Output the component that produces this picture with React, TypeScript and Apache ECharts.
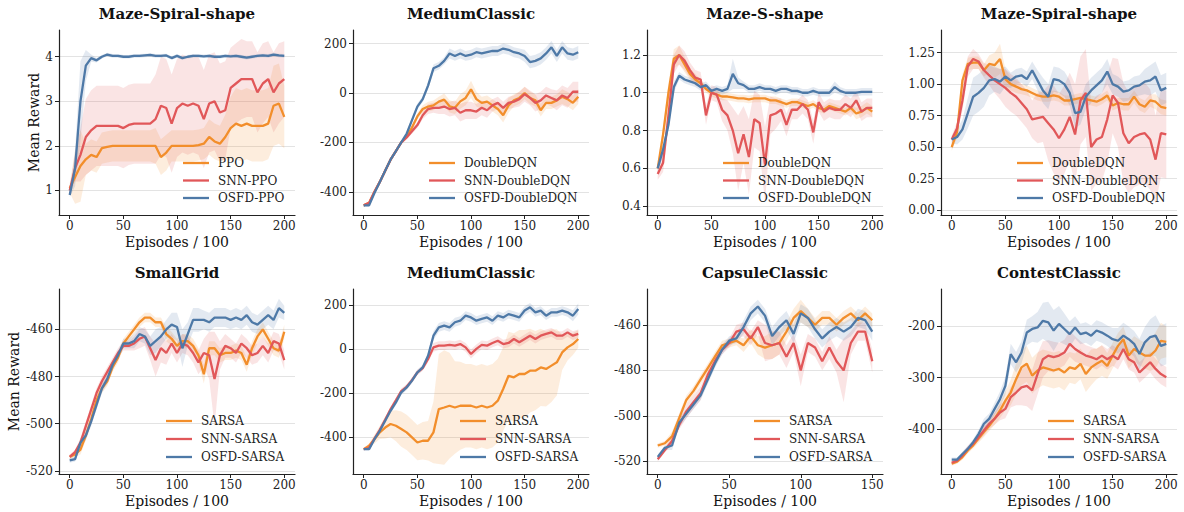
import React, { useEffect, useRef } from "react";
import * as echarts from "echarts";

// ---------- episode grids (x values, in units of 100 episodes) ----------
const EPISODES_200 = [0, 5, 10, 15, 20, 25, 30, 35, 40, 45, 50, 55, 60, 65, 70, 75, 80, 85, 90, 95, 100, 105, 110, 115, 120, 125, 130, 135, 140, 145, 150, 155, 160, 165, 170, 175, 180, 185, 190, 195, 200];
const EPISODES_150 = [0, 5, 10, 15, 20, 25, 30, 35, 40, 45, 50, 55, 60, 65, 70, 75, 80, 85, 90, 95, 100, 105, 110, 115, 120, 125, 130, 135, 140, 145, 150];
const X_TICKS_200 = [0, 50, 100, 150, 200];
const X_TICKS_150 = [0, 50, 100, 150];

// ---------- Panel 1: Maze-Spiral-shape (PPO) ----------
const spiralPPO = [1.05, 1.3, 1.55, 1.7, 1.8, 1.75, 1.95, 1.98, 2.0, 2.0, 2.0, 2.0, 2.0, 2.0, 2.0, 2.0, 2.0, 1.75, 1.85, 2.0, 2.0, 2.0, 2.0, 2.0, 2.02, 2.05, 2.2, 2.1, 2.05, 2.2, 2.4, 2.5, 2.45, 2.5, 2.45, 2.45, 2.45, 2.5, 2.9, 2.95, 2.65];
const spiralPPOSd = [0.1, 0.6, 0.8, 0.35, 0.35, 0.35, 0.35, 0.35, 0.35, 0.35, 0.35, 0.35, 0.35, 0.35, 0.35, 0.35, 0.4, 0.4, 0.4, 0.35, 0.35, 0.35, 0.35, 0.35, 0.35, 0.35, 0.4, 0.4, 0.4, 0.5, 0.7, 0.8, 0.8, 0.8, 0.8, 0.8, 0.8, 0.8, 0.9, 0.9, 0.7];
const spiralSNNPPO = [1.0, 1.5, 1.8, 2.2, 2.35, 2.45, 2.45, 2.45, 2.45, 2.45, 2.4, 2.47, 2.5, 2.5, 2.5, 2.5, 2.6, 2.9, 2.85, 2.5, 2.85, 2.95, 2.9, 2.95, 2.9, 2.6, 2.95, 3.0, 2.75, 2.8, 3.3, 3.4, 3.5, 3.5, 3.5, 3.2, 3.4, 3.5, 3.2, 3.4, 3.5];
const spiralSNNPPOSd = [0.1, 0.3, 0.6, 0.85, 0.9, 0.9, 0.9, 0.9, 0.9, 0.9, 0.9, 0.9, 0.9, 0.9, 0.9, 0.9, 1.0, 1.1, 1.1, 1.1, 1.1, 1.1, 1.1, 1.1, 1.1, 1.1, 1.1, 1.1, 1.1, 1.1, 0.9, 0.9, 0.9, 0.85, 0.85, 0.9, 0.9, 0.85, 0.9, 0.9, 0.85];
const spiralOSFDPPO = [0.9, 1.5, 3.0, 3.8, 3.97, 3.92, 4.0, 4.05, 4.02, 4.02, 4.0, 4.0, 4.02, 4.02, 4.03, 4.04, 4.02, 4.02, 4.03, 3.97, 4.02, 3.97, 4.0, 4.02, 4.02, 4.01, 4.02, 4.0, 4.0, 4.02, 4.01, 4.02, 4.0, 3.98, 4.0, 4.02, 4.03, 4.02, 4.05, 4.03, 4.02];
const spiralOSFDPPOSd = [0.05, 0.4, 0.9, 0.35, 0.08, 0.05, 0.04, 0.04, 0.04, 0.04, 0.04, 0.04, 0.04, 0.04, 0.04, 0.04, 0.04, 0.04, 0.04, 0.04, 0.04, 0.04, 0.04, 0.04, 0.04, 0.04, 0.04, 0.04, 0.04, 0.04, 0.04, 0.04, 0.04, 0.04, 0.04, 0.04, 0.04, 0.04, 0.04, 0.04, 0.04];

// ---------- Panel 2: MediumClassic (DoubleDQN) ----------
const mcDQN = [-455, -445, -400, -360, -315, -270, -235, -200, -175, -140, -95, -65, -55, -50, -35, -27, -54, -60, -34, -20, 15, -25, -40, -35, -50, -65, -90, -50, -30, -20, 0, -20, -30, -70, -40, -40, -30, -15, -25, -40, -15];
const mcDQNSd = [5, 5, 8, 8, 8, 8, 8, 8, 8, 10, 12, 15, 20, 20, 20, 25, 25, 25, 30, 30, 35, 30, 25, 25, 25, 25, 30, 30, 25, 25, 25, 25, 25, 25, 25, 25, 25, 30, 30, 30, 30];
const mcSNNDQN = [-455, -445, -400, -360, -315, -270, -235, -200, -180, -155, -130, -90, -65, -60, -60, -55, -65, -60, -80, -70, -70, -75, -60, -70, -50, -40, -60, -40, -35, -25, -5, -20, -40, -30, -10, -20, -30, -10, -20, 5, 5];
const mcSNNDQNSd = [5, 5, 8, 8, 8, 8, 8, 8, 8, 10, 12, 15, 20, 20, 25, 30, 30, 30, 35, 35, 35, 30, 30, 30, 25, 25, 25, 25, 25, 30, 30, 30, 35, 35, 35, 35, 40, 40, 40, 40, 40];
const mcOSFDDQN = [-455, -455, -405, -360, -315, -270, -235, -200, -165, -110, -55, -25, 30, 100, 110, 130, 160, 150, 160, 150, 155, 165, 160, 165, 170, 170, 180, 175, 165, 160, 150, 125, 130, 140, 160, 185, 150, 185, 160, 155, 165];
const mcOSFDDQNSd = [5, 5, 8, 8, 8, 8, 8, 8, 8, 10, 12, 12, 15, 15, 15, 15, 20, 20, 20, 20, 20, 20, 20, 20, 20, 20, 20, 20, 20, 20, 25, 25, 25, 25, 25, 25, 25, 25, 25, 25, 25];

// ---------- Panel 3: Maze-S-shape (DoubleDQN) ----------
const sDQN = [0.6, 0.78, 1.0, 1.18, 1.2, 1.15, 1.1, 1.07, 1.05, 1.02, 1.0, 0.99, 0.98, 0.98, 0.975, 0.97, 0.97, 0.965, 0.97, 0.97, 0.97, 0.96, 0.96, 0.95, 0.94, 0.95, 0.95, 0.94, 0.93, 0.94, 0.92, 0.91, 0.93, 0.92, 0.91, 0.9, 0.92, 0.89, 0.9, 0.92, 0.9];
const sDQNSd = [0.02, 0.04, 0.05, 0.05, 0.05, 0.04, 0.03, 0.03, 0.02, 0.02, 0.02, 0.02, 0.02, 0.02, 0.02, 0.02, 0.02, 0.02, 0.02, 0.02, 0.02, 0.02, 0.02, 0.02, 0.02, 0.02, 0.02, 0.02, 0.02, 0.02, 0.02, 0.02, 0.02, 0.02, 0.02, 0.02, 0.02, 0.03, 0.03, 0.03, 0.03];
const sSNNDQN = [0.57, 0.63, 0.88, 1.15, 1.2, 1.17, 1.12, 1.08, 1.07, 0.88, 1.0, 0.99, 0.91, 0.88, 0.8, 0.68, 0.78, 0.66, 0.86, 0.84, 0.62, 0.88, 0.89, 0.91, 0.83, 0.91, 0.91, 0.94, 0.91, 0.79, 0.95, 0.9, 0.92, 0.91, 0.91, 0.94, 0.92, 0.96, 0.9, 0.92, 0.92];
const sSNNDQNSd = [0.03, 0.05, 0.06, 0.05, 0.05, 0.05, 0.04, 0.04, 0.04, 0.05, 0.04, 0.04, 0.06, 0.08, 0.12, 0.2, 0.15, 0.2, 0.15, 0.15, 0.2, 0.1, 0.08, 0.06, 0.06, 0.05, 0.05, 0.05, 0.05, 0.06, 0.05, 0.05, 0.05, 0.05, 0.05, 0.05, 0.05, 0.05, 0.05, 0.05, 0.05];
const sOSFDDQN = [0.6, 0.7, 0.83, 1.03, 1.09, 1.07, 1.06, 1.05, 1.03, 1.04, 1.01, 1.02, 1.01, 1.02, 1.1, 1.05, 1.04, 1.02, 1.02, 1.03, 1.02, 1.02, 1.01, 1.02, 1.02, 1.01, 1.01, 1.0, 1.0, 1.01, 1.0, 1.0, 1.0, 1.03, 1.01, 1.0, 1.0, 1.0, 1.005, 1.005, 1.005];
const sOSFDDQNSd = [0.02, 0.03, 0.03, 0.03, 0.02, 0.02, 0.02, 0.02, 0.02, 0.02, 0.02, 0.02, 0.02, 0.02, 0.08, 0.03, 0.02, 0.02, 0.02, 0.02, 0.02, 0.02, 0.02, 0.02, 0.02, 0.02, 0.02, 0.02, 0.02, 0.02, 0.02, 0.02, 0.02, 0.03, 0.02, 0.02, 0.02, 0.02, 0.02, 0.02, 0.02];

// ---------- Panel 4: Maze-Spiral-shape (DoubleDQN) ----------
const spDQN = [0.5, 0.62, 1.03, 1.16, 1.17, 1.17, 1.11, 1.16, 1.15, 1.2, 1.04, 1.0, 0.98, 0.96, 0.95, 0.93, 0.91, 0.9, 0.9, 0.91, 0.9, 0.87, 0.87, 0.88, 0.89, 0.88, 0.87, 0.86, 0.88, 0.91, 0.83, 0.85, 0.84, 0.84, 0.9, 0.84, 0.82, 0.87, 0.86, 0.82, 0.81];
const spDQNSd = [0.03, 0.05, 0.05, 0.05, 0.05, 0.05, 0.05, 0.07, 0.1, 0.12, 0.08, 0.05, 0.05, 0.04, 0.04, 0.04, 0.04, 0.04, 0.04, 0.04, 0.04, 0.04, 0.04, 0.04, 0.04, 0.04, 0.04, 0.04, 0.04, 0.04, 0.04, 0.04, 0.05, 0.05, 0.05, 0.05, 0.05, 0.05, 0.06, 0.06, 0.06];
const spSNNDQN = [0.56, 0.65, 0.87, 1.14, 1.2, 1.18, 1.11, 1.07, 1.03, 1.0, 0.97, 0.93, 0.9, 0.85, 0.8, 0.72, 0.73, 0.74, 0.69, 0.64, 0.57, 0.64, 0.74, 0.6, 0.87, 0.93, 0.5, 0.56, 0.58, 0.72, 0.91, 0.85, 0.61, 0.53, 0.58, 0.6, 0.61, 0.56, 0.4, 0.61, 0.6];
const spSNNDQNSd = [0.03, 0.05, 0.08, 0.08, 0.08, 0.06, 0.06, 0.08, 0.1, 0.12, 0.15, 0.15, 0.15, 0.15, 0.15, 0.15, 0.2, 0.2, 0.3, 0.35, 0.35, 0.35, 0.35, 0.4, 0.35, 0.35, 0.35, 0.35, 0.35, 0.35, 0.3, 0.35, 0.4, 0.4, 0.4, 0.4, 0.4, 0.4, 0.35, 0.35, 0.35];
const spOSFDDQN = [0.56, 0.58, 0.64, 0.77, 0.9, 0.93, 0.97, 1.03, 1.04, 1.02, 1.06, 1.03, 1.06, 1.07, 1.04, 1.11, 1.03, 0.95, 0.9, 1.04, 1.03, 1.0, 0.93, 0.77, 0.78, 0.9, 0.95, 0.99, 1.03, 1.1, 1.0, 0.98, 0.94, 0.95, 0.98, 0.99, 1.02, 1.03, 1.06, 0.95, 0.97];
const spOSFDDQNSd = [0.03, 0.06, 0.08, 0.12, 0.15, 0.15, 0.15, 0.12, 0.1, 0.1, 0.08, 0.06, 0.06, 0.06, 0.06, 0.07, 0.08, 0.1, 0.1, 0.1, 0.1, 0.1, 0.1, 0.12, 0.1, 0.1, 0.1, 0.1, 0.1, 0.1, 0.08, 0.08, 0.08, 0.08, 0.08, 0.08, 0.1, 0.12, 0.12, 0.12, 0.12];

// ---------- Panel 5: SmallGrid (SARSA) ----------
const sgSARSA = [-514, -513, -511, -505, -498, -490, -485, -482, -476, -472, -466, -463, -460, -457, -455, -455, -457, -457, -462, -464, -467, -465, -465, -467, -471, -479, -468, -468, -471, -470, -470, -469, -470, -475, -468, -463, -460, -464, -468, -469, -461];
const sgSARSASd = [1, 1, 2, 2, 2, 2, 2, 2, 2, 2, 2, 2, 2, 2, 2, 2, 2, 2, 3, 3, 3, 3, 3, 3, 3, 4, 3, 3, 3, 3, 3, 3, 3, 3, 3, 3, 3, 3, 3, 3, 3];
const sgSNNSARSA = [-514, -512, -508, -501, -494, -487, -482, -478, -474, -470, -467, -467, -466, -464, -463, -468, -473, -468, -470, -466, -470, -466, -467, -470, -474, -470, -471, -481, -471, -467, -468, -470, -466, -468, -471, -470, -467, -470, -465, -466, -473];
const sgSNNSARSASd = [1, 1, 2, 2, 2, 2, 2, 2, 2, 2, 2, 2, 3, 4, 4, 5, 7, 6, 5, 4, 4, 4, 4, 4, 5, 6, 10, 20, 6, 5, 4, 4, 4, 4, 4, 4, 4, 4, 4, 4, 4];
const sgOSFDSARSA = [-515.5, -515, -508, -505, -499, -492, -485, -481, -475, -471, -466, -466, -465, -462, -463, -467, -465, -463, -460, -458, -459, -468, -462, -456, -456, -456, -457, -455, -455, -455, -456, -455, -456, -454, -457, -458, -456, -454, -456, -451, -453];
const sgOSFDSARSASd = [1, 1, 2, 2, 2, 2, 2, 2, 2, 2, 2, 2, 3, 3, 3, 4, 5, 4, 4, 5, 6, 8, 5, 5, 5, 4, 4, 4, 4, 4, 4, 4, 4, 4, 4, 4, 4, 4, 4, 4, 3];

// ---------- Panel 6: MediumClassic (SARSA) ----------
const msSARSA = [-453, -438, -408, -377, -355, -339, -347, -362, -377, -400, -423, -415, -415, -377, -271, -264, -256, -264, -256, -256, -256, -264, -256, -264, -256, -233, -180, -120, -127, -112, -112, -97, -97, -82, -89, -74, -59, -14, 9, 24, 47];
const msSARSASd = [5, 10, 20, 30, 50, 60, 70, 80, 80, 80, 80, 85, 90, 140, 250, 260, 240, 210, 200, 190, 190, 190, 190, 190, 190, 190, 190, 200, 200, 200, 200, 190, 180, 175, 170, 165, 150, 80, 60, 50, 40];
const msSNNSARSA = [-453, -448, -405, -365, -320, -272, -232, -190, -170, -140, -105, -85, -44, 9, 17, 17, 20, 17, 24, 9, -21, 2, 20, 17, 29, 39, 24, 29, 47, 32, 47, 62, 47, 62, 70, 77, 62, 62, 77, 62, 70];
const msSNNSARSASd = [5, 5, 8, 10, 12, 12, 12, 12, 12, 12, 12, 12, 15, 20, 20, 20, 20, 20, 20, 20, 20, 20, 20, 20, 20, 20, 20, 20, 20, 20, 20, 20, 20, 20, 20, 20, 20, 20, 20, 20, 20];
const msOSFDSARSA = [-453, -453, -408, -370, -324, -279, -241, -195, -173, -142, -105, -82, -29, 62, 100, 108, 100, 123, 130, 153, 145, 130, 138, 145, 130, 153, 145, 160, 153, 145, 176, 191, 168, 176, 153, 168, 168, 176, 168, 153, 183];
const msOSFDSARSASd = [5, 5, 8, 10, 12, 12, 12, 12, 12, 12, 12, 12, 15, 20, 20, 20, 20, 20, 20, 20, 20, 20, 20, 20, 20, 20, 20, 20, 20, 20, 20, 20, 20, 20, 20, 20, 20, 20, 20, 25, 25];

// ---------- Panel 7: CapsuleClassic (SARSA, 150 x100 episodes) ----------
const ccSARSA = [-513, -512, -509, -501, -493, -489, -484, -479, -474, -469, -468, -467, -469, -465, -469, -470, -469, -468, -463, -457, -454, -457, -460, -457, -457, -460, -457, -455, -458, -455, -458];
const ccSARSASd = [1, 1, 2, 2, 2, 2, 2, 2, 2, 2, 2, 2, 3, 3, 4, 5, 6, 5, 4, 4, 5, 4, 3, 3, 3, 3, 3, 3, 3, 3, 3];
const ccSNNSARSA = [-519, -515, -511, -504, -498, -494, -490, -482, -476, -471, -468, -463, -462, -466, -461, -468, -469, -468, -474, -468, -480, -468, -470, -476, -470, -476, -480, -468, -463, -463, -476];
const ccSNNSARSASd = [1, 1, 2, 2, 3, 3, 3, 2, 2, 2, 2, 3, 3, 3, 3, 8, 6, 5, 5, 4, 7, 4, 4, 4, 5, 5, 14, 5, 4, 4, 5];
const ccOSFDSARSA = [-518, -514, -513, -503, -499, -495, -491, -484, -477, -471, -467, -466, -461, -455, -452, -456, -465, -461, -458, -464, -455, -457, -462, -466, -463, -461, -463, -461, -457, -458, -463];
const ccOSFDSARSASd = [1, 1, 2, 2, 2, 2, 2, 2, 2, 2, 2, 2, 3, 3, 3, 3, 4, 4, 4, 4, 4, 4, 4, 4, 4, 4, 4, 4, 4, 4, 4];

// ---------- Panel 8: ContestClassic (SARSA) ----------
const ctSARSA = [-468, -464, -455, -442, -432, -419, -406, -394, -380, -364, -345, -329, -303, -280, -273, -296, -286, -280, -283, -286, -283, -290, -280, -283, -273, -293, -280, -273, -267, -277, -257, -238, -225, -257, -244, -251, -257, -257, -247, -228, -230];
const ctSARSASd = [4, 4, 5, 6, 6, 8, 10, 10, 12, 15, 18, 25, 30, 35, 35, 35, 35, 35, 35, 35, 35, 35, 30, 30, 30, 35, 35, 30, 30, 25, 25, 25, 25, 25, 25, 25, 25, 30, 35, 35, 30];
const ctSNNSARSA = [-466, -462, -452, -439, -429, -416, -403, -390, -380, -368, -361, -338, -329, -319, -316, -325, -293, -264, -257, -260, -257, -251, -234, -244, -251, -257, -260, -264, -257, -264, -257, -264, -244, -264, -270, -290, -280, -270, -283, -293, -299];
const ctSNNSARSASd = [4, 4, 5, 6, 6, 8, 10, 10, 12, 15, 18, 20, 25, 35, 40, 40, 40, 35, 30, 30, 25, 25, 25, 25, 22, 20, 20, 20, 20, 20, 20, 20, 20, 20, 20, 20, 20, 20, 20, 20, 20];
const ctOSFDSARSA = [-460, -460, -449, -439, -426, -410, -390, -380, -361, -342, -316, -254, -270, -251, -212, -205, -202, -189, -192, -208, -195, -205, -215, -202, -215, -212, -218, -208, -212, -218, -225, -228, -218, -225, -234, -254, -231, -221, -218, -238, -234];
const ctOSFDSARSASd = [4, 4, 5, 6, 6, 8, 10, 10, 12, 15, 18, 20, 20, 22, 25, 25, 30, 35, 40, 40, 35, 30, 25, 22, 20, 20, 20, 20, 20, 20, 22, 25, 25, 25, 25, 30, 30, 35, 40, 40, 40];

// ---------- titles, legends, ticks ----------
const TITLES = ["Maze-Spiral-shape", "MediumClassic", "Maze-S-shape", "Maze-Spiral-shape", "SmallGrid", "MediumClassic", "CapsuleClassic", "ContestClassic"];
const PPO_NAMES = ["PPO", "SNN-PPO", "OSFD-PPO"];
const DQN_NAMES = ["DoubleDQN", "SNN-DoubleDQN", "OSFD-DoubleDQN"];
const SARSA_NAMES = ["SARSA", "SNN-SARSA", "OSFD-SARSA"];
const Y_TICKS = [
  [1, 2, 3, 4],
  [-400, -200, 0, 200],
  [0.4, 0.6, 0.8, 1.0, 1.2],
  [0, 0.25, 0.5, 0.75, 1.0, 1.25],
  [-520, -500, -480, -460],
  [-400, -200, 0, 200],
  [-520, -500, -480, -460],
  [-400, -300, -200],
];
const Y_RANGES = [
  [0.45, 4.6],
  [-494, 255],
  [0.353, 1.332],
  [-0.04, 1.43],
  [-521.3, -442.9],
  [-566, 274],
  [-525.5, -444.3],
  [-488, -127],
];
const Y_DECIMALS = [0, 0, 1, 2, 0, 0, 0, 0];

const PANELS = [
  { names: PPO_NAMES, xs: EPISODES_200, xTicks: X_TICKS_200, means: [spiralPPO, spiralSNNPPO, spiralOSFDPPO], sds: [spiralPPOSd, spiralSNNPPOSd, spiralOSFDPPOSd] },
  { names: DQN_NAMES, xs: EPISODES_200, xTicks: X_TICKS_200, means: [mcDQN, mcSNNDQN, mcOSFDDQN], sds: [mcDQNSd, mcSNNDQNSd, mcOSFDDQNSd] },
  { names: DQN_NAMES, xs: EPISODES_200, xTicks: X_TICKS_200, means: [sDQN, sSNNDQN, sOSFDDQN], sds: [sDQNSd, sSNNDQNSd, sOSFDDQNSd] },
  { names: DQN_NAMES, xs: EPISODES_200, xTicks: X_TICKS_200, means: [spDQN, spSNNDQN, spOSFDDQN], sds: [spDQNSd, spSNNDQNSd, spOSFDDQNSd] },
  { names: SARSA_NAMES, xs: EPISODES_200, xTicks: X_TICKS_200, means: [sgSARSA, sgSNNSARSA, sgOSFDSARSA], sds: [sgSARSASd, sgSNNSARSASd, sgOSFDSARSASd] },
  { names: SARSA_NAMES, xs: EPISODES_200, xTicks: X_TICKS_200, means: [msSARSA, msSNNSARSA, msOSFDSARSA], sds: [msSARSASd, msSNNSARSASd, msOSFDSARSASd] },
  { names: SARSA_NAMES, xs: EPISODES_150, xTicks: X_TICKS_150, means: [ccSARSA, ccSNNSARSA, ccOSFDSARSA], sds: [ccSARSASd, ccSNNSARSASd, ccOSFDSARSASd] },
  { names: SARSA_NAMES, xs: EPISODES_200, xTicks: X_TICKS_200, means: [ctSARSA, ctSNNSARSA, ctOSFDSARSA], sds: [ctSARSASd, ctSNNSARSASd, ctOSFDSARSASd] },
];

// ---------- styling / layout ----------
const COLORS = ["#F28E2B", "#E15759", "#4E79A7"];
const BAND_COLORS = ["rgba(242,142,43,0.16)", "rgba(225,87,89,0.16)", "rgba(78,121,167,0.16)"];
const FONT = "DejaVu Serif";
const GRID_LEFTS = [59, 353, 647, 941];
const GRID_TOPS = [30, 289];
const GRID_W = 236;
const GRID_H = 185;
const TITLE_TOPS = [6, 265];
const LEGEND_OFFSETS = [124, 76, 76, 76, 107, 107, 107, 107];
const LEGEND_TOPS = [157, 415];
const LEGEND_GAPS = [5.5, 6];

function bandSeries(xs: number[], mean: number[], sd: number[], color: string, gi: number) {
  const rows = xs.map((x, i) => [x, mean[i] - sd[i], mean[i] + sd[i]]);
  return {
    type: "custom",
    xAxisIndex: gi,
    yAxisIndex: gi,
    silent: true,
    clip: true,
    z: 1,
    data: rows,
    encode: { x: 0, y: [1, 2] },
    renderItem: (params: any, api: any) => {
      if (params.dataIndex !== 0) return null;
      const upper = rows.map((r) => api.coord([r[0], r[2]]));
      const lower = rows.map((r) => api.coord([r[0], r[1]])).reverse();
      return {
        type: "polygon",
        shape: { points: upper.concat(lower) },
        style: { fill: color, stroke: "none" },
      };
    },
  };
}

function buildOption() {
  const grid: any[] = [];
  const xAxis: any[] = [];
  const yAxis: any[] = [];
  const title: any[] = [];
  const legend: any[] = [];
  const bands: any[] = [];
  const lines: any[] = [];

  PANELS.forEach((p, i) => {
    const col = i % 4;
    const row = Math.floor(i / 4);
    const left = GRID_LEFTS[col];
    const top = GRID_TOPS[row];
    const xEnd = p.xTicks[p.xTicks.length - 1];
    const xPad = xEnd * 0.05;

    grid.push({ left, top, width: GRID_W, height: GRID_H, containLabel: false, outerBoundsMode: "none" });

    title.push({
      text: TITLES[i],
      left: left + GRID_W / 2,
      top: TITLE_TOPS[row],
      textAlign: "center",
      padding: 0,
      textStyle: { fontFamily: FONT, fontSize: 15, fontWeight: "bold", color: "#111" },
    });

    legend.push({
      data: p.names,
      orient: "vertical",
      left: left + LEGEND_OFFSETS[i],
      top: LEGEND_TOPS[row],
      padding: 0,
      itemGap: LEGEND_GAPS[row],
      icon: "rect",
      itemWidth: 26,
      itemHeight: 2.3,
      selectedMode: false,
      textStyle: { fontFamily: FONT, fontSize: 12, color: "#222", padding: [0, 0, 0, 4] },
    });

    xAxis.push({
      type: "value",
      gridIndex: i,
      min: -xPad,
      max: xEnd + xPad,
      name: "Episodes / 100",
      nameLocation: "middle",
      nameGap: 20,
      nameTextStyle: { fontFamily: FONT, fontSize: 14, color: "#111" },
      axisLine: { show: true, onZero: false, lineStyle: { color: "#222", width: 1.2 } },
      axisTick: { show: true, length: 4, customValues: p.xTicks, lineStyle: { color: "#222" } },
      axisLabel: { customValues: p.xTicks, margin: 5, fontFamily: FONT, fontSize: 12, color: "#222" },
      splitLine: { show: false },
    });

    const dec = Y_DECIMALS[i];
    yAxis.push({
      type: "value",
      gridIndex: i,
      min: Y_RANGES[i][0],
      max: Y_RANGES[i][1],
      name: col === 0 ? "Mean Reward" : "",
      nameLocation: "middle",
      nameGap: row === 0 ? 17 : 38,
      nameTextStyle: { fontFamily: FONT, fontSize: 14, color: "#111" },
      axisLine: { show: true, onZero: false, lineStyle: { color: "#222", width: 1.2 } },
      axisTick: { show: true, length: 4, customValues: Y_TICKS[i], lineStyle: { color: "#222" } },
      axisLabel: {
        customValues: Y_TICKS[i],
        margin: 6,
        fontFamily: FONT,
        fontSize: 12,
        color: "#222",
        formatter: (v: number) => v.toFixed(dec),
      },
      splitLine: { show: true, lineStyle: { color: "#e3e3e3", width: 1.1 } },
    });

    p.means.forEach((m, k) => {
      bands.push(bandSeries(p.xs, m, p.sds[k], BAND_COLORS[k], i));
      lines.push({
        type: "line",
        name: p.names[k],
        xAxisIndex: i,
        yAxisIndex: i,
        data: p.xs.map((x, j) => [x, m[j]]),
        showSymbol: false,
        symbol: "none",
        color: COLORS[k],
        lineStyle: { color: COLORS[k], width: 2.3 },
        itemStyle: { color: COLORS[k] },
        z: 3,
        clip: true,
      });
    });
  });

  return {
    animation: false,
    backgroundColor: "#ffffff",
    textStyle: { fontFamily: FONT },
    title,
    legend,
    grid,
    xAxis,
    yAxis,
    series: [...bands, ...lines],
  };
}

export default function App() {
  const ref = useRef<HTMLDivElement>(null);
  useEffect(() => {
    if (!ref.current) return;
    const chart = echarts.init(ref.current, undefined, { renderer: "svg" });
    chart.setOption(buildOption() as any);
    return () => chart.dispose();
  }, []);
  return <div ref={ref} style={{ position: "absolute", left: 0, top: 0, width: 1184, height: 512 }} />;
}
